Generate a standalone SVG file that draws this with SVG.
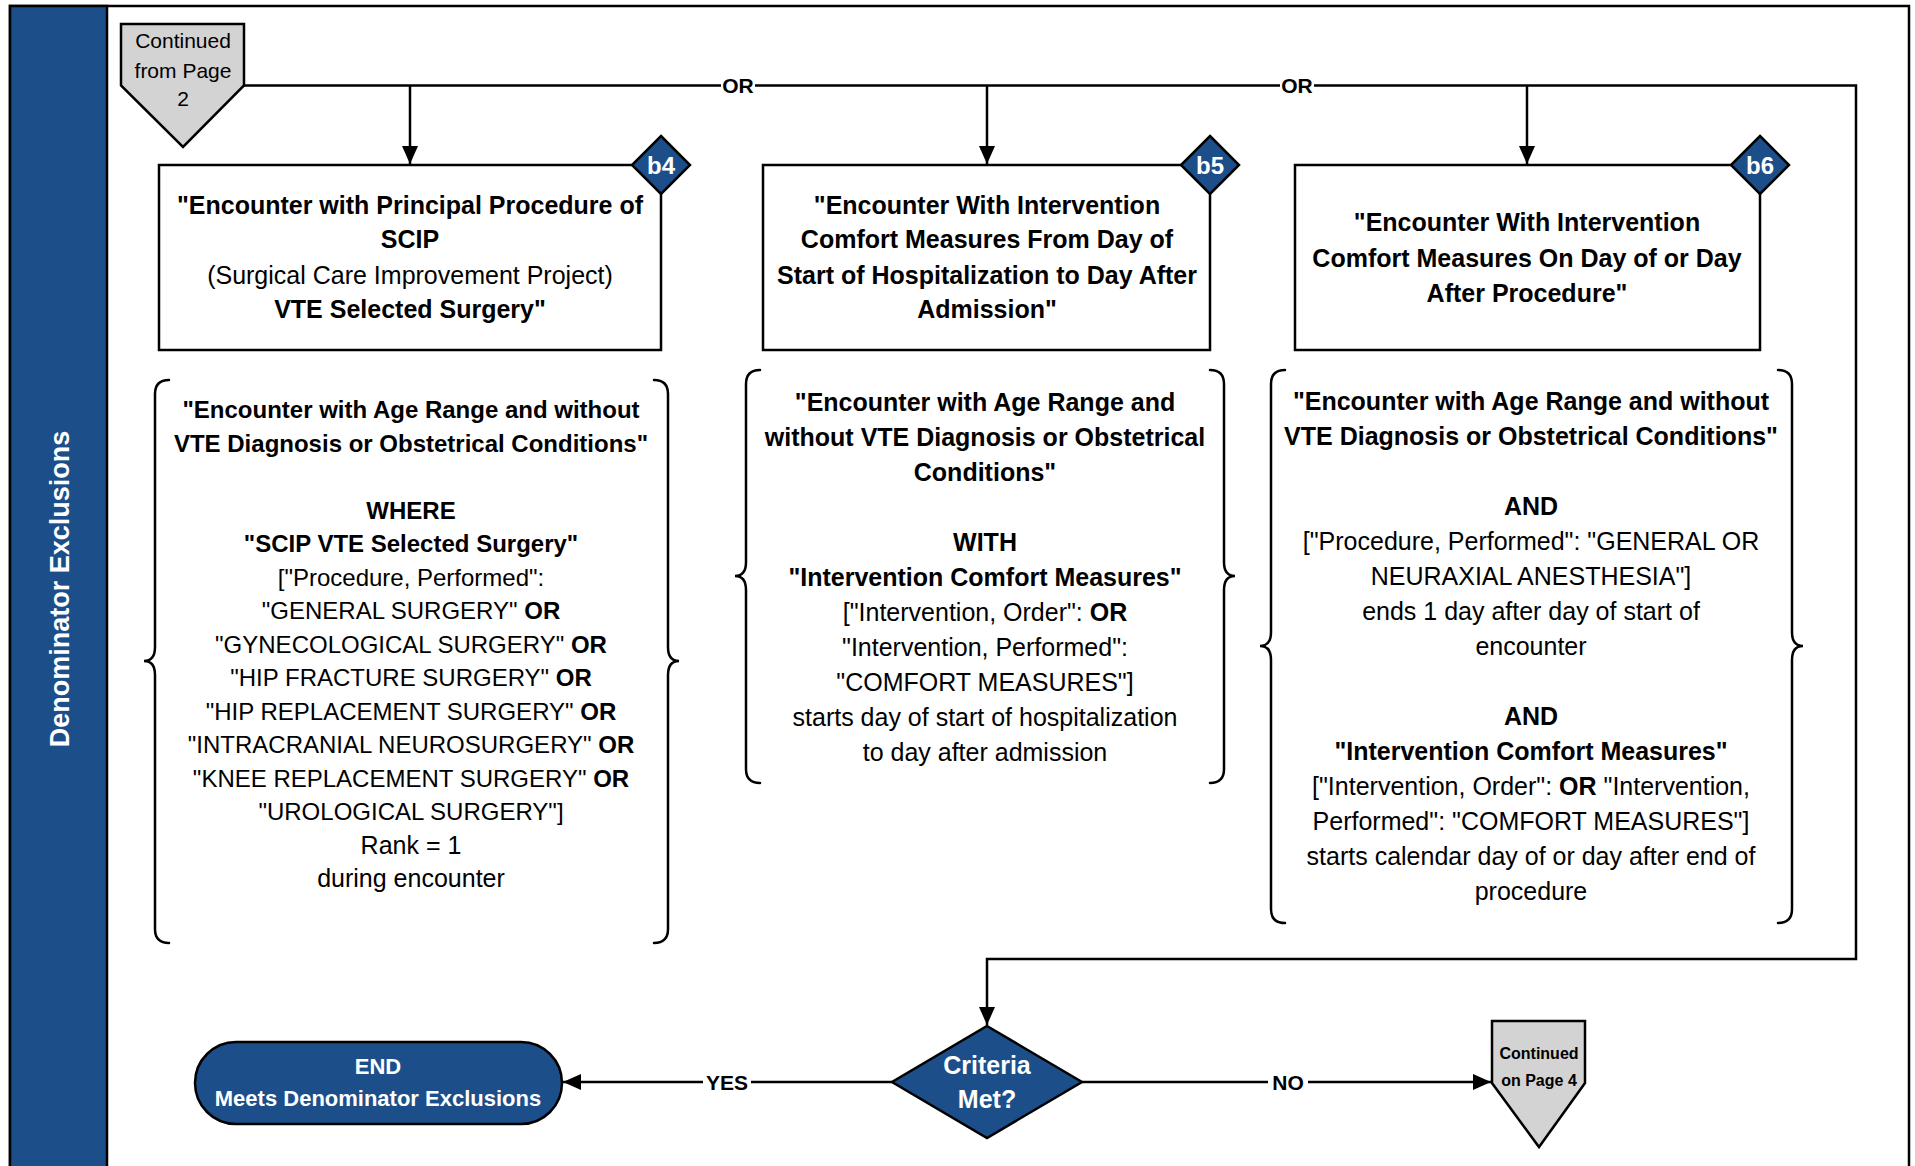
<svg xmlns="http://www.w3.org/2000/svg" width="1915" height="1166" viewBox="0 0 1915 1166">
<style>
text{font-family:'Liberation Sans',Arial,sans-serif;text-anchor:middle;fill:#000}
.b{font-weight:bold}
.w{fill:#fff}
.f25{font-size:25px}
.f24{font-size:24px}
.box{fill:#fff;stroke:#000;stroke-width:2.5}
.blue{fill:#1c4e89;stroke:#000;stroke-width:2.5}
.gray{fill:#d3d3d3;stroke:#000;stroke-width:2.5}
.ln{fill:none;stroke:#000;stroke-width:2.5}
.br{fill:none;stroke:#000;stroke-width:2.5;stroke-linecap:round}
.lbl{font-size:21px;font-weight:bold}
</style>
<defs>
<marker id="ah" markerWidth="18" markerHeight="16" refX="18" refY="8" orient="auto" markerUnits="userSpaceOnUse"><path d="M0,0 L18,8 L0,16 Z" fill="#000"/></marker>
</defs>
<rect x="0" y="0" width="1915" height="1166" fill="#fff"/>
<g id="frame">
<rect x="10" y="6" width="1899" height="1170" fill="none" stroke="#000" stroke-width="2.5"/>
<rect x="10" y="6" width="97" height="1170" class="blue"/>
<text class="b w" font-size="27" transform="translate(68.5,589) rotate(-90)">Denominator Exclusions</text>
</g>
<g id="connectors">
<path class="ln" d="M244,85.5 H1856 V959 H987 V1025" marker-end="url(#ah)"/>
<path class="ln" d="M410,85.5 V164" marker-end="url(#ah)"/>
<path class="ln" d="M987,85.5 V164" marker-end="url(#ah)"/>
<path class="ln" d="M1527,85.5 V164" marker-end="url(#ah)"/>
<path class="ln" d="M892,1082 H563" marker-end="url(#ah)"/>
<path class="ln" d="M1082,1082 H1491" marker-end="url(#ah)"/>
<rect x="721" y="74" width="34" height="23" fill="#fff"/>
<text class="lbl" x="738" y="93">OR</text>
<rect x="1280" y="74" width="34" height="23" fill="#fff"/>
<text class="lbl" x="1297" y="93">OR</text>
<rect x="703" y="1071" width="48" height="23" fill="#fff"/>
<text class="lbl" x="727" y="1089.5">YES</text>
<rect x="1268" y="1071" width="40" height="23" fill="#fff"/>
<text class="lbl" x="1288" y="1089.5">NO</text>
</g>
<g id="continued-from-page-2">
<path class="gray" d="M121,24 H244 V85.5 L183,147 L121,85.5 Z"/>
<text font-size="21" x="183" y="47.5">Continued</text>
<text font-size="21" x="183" y="77.5">from Page</text>
<text font-size="21" x="183" y="105.5">2</text>
</g>
<g id="b4">
<rect class="box" x="159" y="165" width="502" height="185"/>
<text class="b f25" x="410" y="214">"Encounter with Principal Procedure of</text>
<text class="b f25" x="410" y="248">SCIP</text>
<text class="f25" x="410" y="284">(Surgical Care Improvement Project)</text>
<text class="b f25" x="410" y="318">VTE Selected Surgery"</text>
<path class="blue" d="M661,136 L690,165 L661,194 L632,165 Z"/>
<text class="b w" font-size="24" x="661" y="173.5">b4</text>
</g>
<g id="b5">
<rect class="box" x="763" y="165" width="447" height="185"/>
<text class="b f25" x="987" y="214">"Encounter With Intervention</text>
<text class="b f25" x="987" y="248">Comfort Measures From Day of</text>
<text class="b f25" x="987" y="284">Start of Hospitalization to Day After</text>
<text class="b f25" x="987" y="318">Admission"</text>
<path class="blue" d="M1210,136 L1239,165 L1210,194 L1181,165 Z"/>
<text class="b w" font-size="24" x="1210" y="173.5">b5</text>
</g>
<g id="b6">
<rect class="box" x="1295" y="165" width="465" height="185"/>
<text class="b f25" x="1527" y="231">"Encounter With Intervention</text>
<text class="b f25" x="1527" y="267">Comfort Measures On Day of or Day</text>
<text class="b f25" x="1527" y="302">After Procedure"</text>
<path class="blue" d="M1760,136 L1789,165 L1760,194 L1731,165 Z"/>
<text class="b w" font-size="24" x="1760" y="173.5">b6</text>
</g>
<g id="criteria-b4">
<path class="br" d="M169,380 Q155,380 155,394 L155,647 Q155,661 144,661 Q155,661 155,675 L155,929 Q155,943 169,943"/>
<path class="br" d="M654,380 Q668,380 668,394 L668,647 Q668,661 679,661 Q668,661 668,675 L668,929 Q668,943 654,943"/>
<text class="b f24" x="411" y="418">"Encounter with Age Range and without</text>
<text class="b f24" x="411" y="451.5">VTE Diagnosis or Obstetrical Conditions"</text>
<text class="b f24" x="411" y="518.5">WHERE</text>
<text class="b f24" x="411" y="552">"SCIP VTE Selected Surgery"</text>
<text class="f24" x="411" y="585.5">["Procedure, Performed":</text>
<text class="f24" x="411" y="619">"GENERAL SURGERY" <tspan class="b">OR</tspan></text>
<text class="f24" x="411" y="652.5">"GYNECOLOGICAL SURGERY" <tspan class="b">OR</tspan></text>
<text class="f24" x="411" y="686">"HIP FRACTURE SURGERY" <tspan class="b">OR</tspan></text>
<text class="f24" x="411" y="719.5">"HIP REPLACEMENT SURGERY" <tspan class="b">OR</tspan></text>
<text class="f24" x="411" y="753">"INTRACRANIAL NEUROSURGERY" <tspan class="b">OR</tspan></text>
<text class="f24" x="411" y="786.5">"KNEE REPLACEMENT SURGERY" <tspan class="b">OR</tspan></text>
<text class="f24" x="411" y="820">"UROLOGICAL SURGERY"]</text>
<text class="f25" x="411" y="853.5">Rank = 1</text>
<text class="f25" x="411" y="887">during encounter</text>
</g>
<g id="criteria-b5">
<path class="br" d="M760,370 Q746,370 746,384 L746,562 Q746,576 735,576 Q746,576 746,590 L746,769 Q746,783 760,783"/>
<path class="br" d="M1210,370 Q1224,370 1224,384 L1224,562 Q1224,576 1235,576 Q1224,576 1224,590 L1224,769 Q1224,783 1210,783"/>
<text class="b f25" x="985" y="411">"Encounter with Age Range and</text>
<text class="b f25" x="985" y="446">without VTE Diagnosis or Obstetrical</text>
<text class="b f25" x="985" y="481">Conditions"</text>
<text class="b f25" x="985" y="551">WITH</text>
<text class="b f25" x="985" y="586">"Intervention Comfort Measures"</text>
<text class="f25" x="985" y="621">["Intervention, Order": <tspan class="b">OR</tspan></text>
<text class="f25" x="985" y="656">"Intervention, Performed":</text>
<text class="f25" x="985" y="691">"COMFORT MEASURES"]</text>
<text class="f25" x="985" y="726">starts day of start of hospitalization</text>
<text class="f25" x="985" y="761">to day after admission</text>
</g>
<g id="criteria-b6">
<path class="br" d="M1285,370 Q1271,370 1271,384 L1271,632 Q1271,646 1260,646 Q1271,646 1271,660 L1271,909 Q1271,923 1285,923"/>
<path class="br" d="M1778,370 Q1792,370 1792,384 L1792,632 Q1792,646 1803,646 Q1792,646 1792,660 L1792,909 Q1792,923 1778,923"/>
<text class="b f25" x="1531" y="410">"Encounter with Age Range and without</text>
<text class="b f25" x="1531" y="445">VTE Diagnosis or Obstetrical Conditions"</text>
<text class="b f25" x="1531" y="515">AND</text>
<text class="f25" x="1531" y="550">["Procedure, Performed": "GENERAL OR</text>
<text class="f25" x="1531" y="585">NEURAXIAL ANESTHESIA"]</text>
<text class="f25" x="1531" y="620">ends 1 day after day of start of</text>
<text class="f25" x="1531" y="655">encounter</text>
<text class="b f25" x="1531" y="725">AND</text>
<text class="b f25" x="1531" y="760">"Intervention Comfort Measures"</text>
<text class="f25" x="1531" y="795">["Intervention, Order": <tspan class="b">OR</tspan> "Intervention,</text>
<text class="f25" x="1531" y="830">Performed": "COMFORT MEASURES"]</text>
<text class="f25" x="1531" y="865">starts calendar day of or day after end of</text>
<text class="f25" x="1531" y="900">procedure</text>
</g>
<g id="criteria-met">
<path class="blue" d="M987,1026 L1082,1082 L987,1138 L892,1082 Z"/>
<text class="b w f25" x="987" y="1074">Criteria</text>
<text class="b w f25" x="987" y="1108">Met?</text>
</g>
<g id="end">
<rect class="blue" x="195" y="1042" width="367" height="82" rx="41" ry="41"/>
<text class="b w" font-size="22" x="378" y="1074">END</text>
<text class="b w" font-size="22" x="378" y="1106">Meets Denominator Exclusions</text>
</g>
<g id="continued-on-page-4">
<path class="gray" d="M1492,1021 H1585 V1083 L1539,1147 L1492,1083 Z"/>
<text class="b" font-size="16" x="1539" y="1059">Continued</text>
<text class="b" font-size="16" x="1539" y="1086">on Page 4</text>
</g>
</svg>
